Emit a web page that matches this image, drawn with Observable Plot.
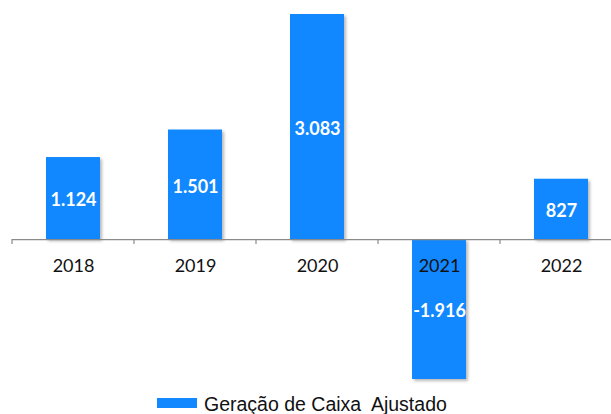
<!DOCTYPE html>
<html>
<head>
<meta charset="utf-8">
<script src="https://cdn.jsdelivr.net/npm/d3@7"></script>
<script src="https://cdn.jsdelivr.net/npm/@observablehq/plot@0.6"></script>
<style>
  html, body { margin: 0; padding: 0; background: #fff; }
  #wrap { position: relative; width: 611px; height: 414px; overflow: hidden; }
  #legend .sw { position: absolute; left: 157px; top: 398px; width: 40px; height: 10px; background: #1188FF; }
  #legend .lbl { position: absolute; left: 204px; top: 394.5px; line-height: 1;
    font-family: "Liberation Sans", Arial, sans-serif; font-size: 19.5px; color: #111; white-space: pre; }
  .bars rect { filter: drop-shadow(2px 2px 1.5px rgba(0,0,0,0.28)); }
</style>
</head>
<body>
<div id="wrap">
  <div id="chart"></div>
  <div id="legend"><div class="sw"></div><span class="lbl"></span></div>
</div>
<script>
const years = ["2018", "2019", "2020", "2021", "2022"];
const values = [1124, 1501, 3083, -1916, 827];
const seriesName = "Geração de Caixa  Ajustado";
const barColor = "#1188FF";

document.querySelector("#legend .lbl").textContent = seriesName;

const data = years.map((y, i) => ({year: y, value: values[i]}));
const fmt = d3.formatLocale({decimal: ",", thousands: ".", grouping: [3], currency: ["", ""], minus: "-"}).format(",d");

const chart = Plot.plot({
  width: 611,
  height: 390,
  marginTop: 14,
  marginBottom: 11,
  marginLeft: 12,
  marginRight: 0,
  style: {background: "#fff", overflow: "hidden"},
  x: {domain: years, range: [12, 622], paddingInner: 0.56, paddingOuter: 0.28, axis: null},
  y: {domain: [-1916, 3083], axis: null},
  marks: [
    Plot.barY(data, {x: "year", y: "value", fill: barColor, className: "bars"}),
    Plot.ruleY([0], {stroke: "#8a8a8a", strokeWidth: 1.2}),
    Plot.text(data, {x: "year", y: 0, dy: 27, text: "year", fill: "#111",
      fontFamily: "Lato, 'Open Sans', sans-serif", fontSize: 18}),
    Plot.text(data, {x: "year", y: d => d.value / 2, dy: 2, text: d => fmt(d.value), fill: "#fff",
      fontFamily: "Lato, 'Open Sans', sans-serif", fontSize: 18, fontWeight: "bold"})
  ]
});
document.getElementById("chart").appendChild(chart);

// category-boundary tick marks, positioned from Plot's own scales
const xs = chart.scale("x"), ys = chart.scale("y");
const bw = xs.bandwidth, step = xs.step;
const y0 = ys.apply(0);
const g = d3.select(chart).append("g").attr("class", "boundary-ticks");
years.forEach((yr, i) => {
  const bx = xs.apply(yr) + bw / 2 - step / 2;
  g.append("line").attr("x1", bx).attr("x2", bx).attr("y1", y0).attr("y2", y0 + 5)
    .attr("stroke", "#8a8a8a").attr("stroke-width", 1.2);
});
</script>
</body>
</html>
